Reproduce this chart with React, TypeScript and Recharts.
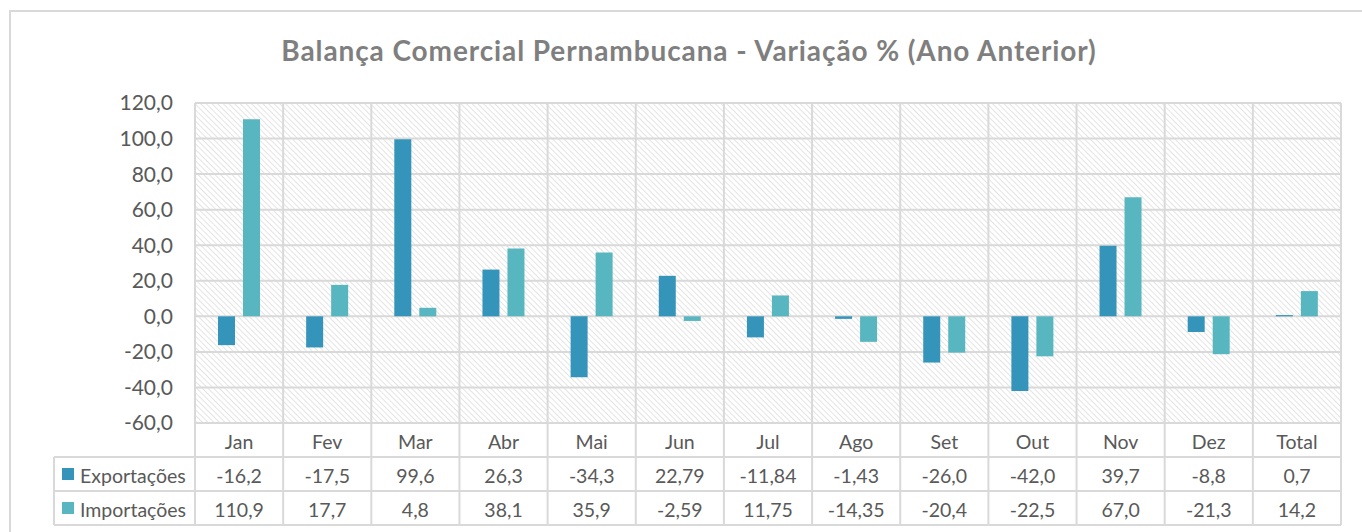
import React from 'react';
import { BarChart, Bar, XAxis, YAxis, CartesianGrid } from 'recharts';

const categories = ['Jan', 'Fev', 'Mar', 'Abr', 'Mai', 'Jun', 'Jul', 'Ago', 'Set', 'Out', 'Nov', 'Dez', 'Total'];
const exportacoes = [-16.2, -17.5, 99.6, 26.3, -34.3, 22.79, -11.84, -1.43, -26.0, -42.0, 39.7, -8.8, 0.7];
const importacoes = [110.9, 17.7, 4.8, 38.1, 35.9, -2.59, 11.75, -14.35, -20.4, -22.5, 67.0, -21.3, 14.2];
const yTicks = [-60, -40, -20, 0, 20, 40, 60, 80, 100, 120];

const seriesNames = ['Exportações', 'Importações'];
const COLORS = ['#3494BA', '#58B6C0'];

const data = categories.map((name, i) => ({ name, exp: exportacoes[i], imp: importacoes[i] }));

// layout
const W = 1362;
const H = 532;
const PLOT_L = 195;
const PLOT_R = 1341;
const PLOT_T = 103;
const PLOT_B = 423;
const ROW_H = 34;
const TABLE_L = 54;
const GRID = '#d9d9d9';
const TXT = '#595959';
const FONT = 'Lato, "Open Sans", sans-serif';

const fmt = (v: number) => (Number.isInteger(v) ? v.toFixed(1) : String(v)).replace('.', ',');

const TableTick = (props: any) => {
  const { x, payload } = props;
  const i = payload.index;
  const bw = (PLOT_R - PLOT_L) / categories.length;
  const left = x - bw / 2;
  const last = i === categories.length - 1;
  const rows = [exportacoes, importacoes];
  return (
    <g>
      <text x={x} y={PLOT_B + ROW_H / 2 + 1} textAnchor="middle" dominantBaseline="central" fill={TXT} fontSize={19.5} fontFamily={FONT}>
        {categories[i]}
      </text>
      {rows.map((r, k) => (
        <text key={k} x={x} y={PLOT_B + ROW_H * (k + 1) + ROW_H / 2 + 1} textAnchor="middle" dominantBaseline="central" fill={TXT} fontSize={19.5} fontFamily={FONT}>
          {fmt(r[i])}
        </text>
      ))}
      <line x1={left} y1={PLOT_B} x2={left} y2={PLOT_B + ROW_H * 3} stroke={GRID} strokeWidth={2} />
      {last && <line x1={left + bw} y1={PLOT_B} x2={left + bw} y2={PLOT_B + ROW_H * 3} stroke={GRID} strokeWidth={2} />}
      {[1, 2, 3].map((k) => (
        <line key={k} x1={left} y1={PLOT_B + ROW_H * k} x2={left + bw} y2={PLOT_B + ROW_H * k} stroke={GRID} strokeWidth={2} />
      ))}
      {i === 0 && (
        <g>
          <line x1={TABLE_L} y1={PLOT_B + ROW_H} x2={TABLE_L} y2={PLOT_B + ROW_H * 3} stroke={GRID} strokeWidth={2} />
          {[1, 2, 3].map((k) => (
            <line key={k} x1={TABLE_L} y1={PLOT_B + ROW_H * k} x2={left} y2={PLOT_B + ROW_H * k} stroke={GRID} strokeWidth={2} />
          ))}
          {seriesNames.map((s, k) => (
            <g key={s}>
              <rect x={62} y={PLOT_B + ROW_H * (k + 1) + 11} width={12} height={12} fill={COLORS[k]} />
              <text x={80} y={PLOT_B + ROW_H * (k + 1) + ROW_H / 2 + 1} dominantBaseline="central" fill={TXT} fontSize={19.5} fontFamily={FONT}>
                {s}
              </text>
            </g>
          ))}
        </g>
      )}
    </g>
  );
};

export default function App() {
  return (
    <div style={{ position: 'absolute', left: 0, top: 0, width: W, height: H, background: '#fff', overflow: 'hidden' }}>
      <div style={{ position: 'absolute', left: 9, top: 10, width: W, height: H, border: `2px solid ${GRID}`, boxSizing: 'border-box' }} />
      <div
        style={{
          position: 'absolute', left: 0, top: 33, width: 1378, textAlign: 'center',
          fontFamily: FONT, fontWeight: 700, fontSize: 28, letterSpacing: 0.9, color: '#7f7f7f',
        }}
      >
        Balança Comercial Pernambucana - Variação % (Ano Anterior)
      </div>
      <div style={{ position: 'absolute', left: 0, top: 0 }}>
        <BarChart
          width={W}
          height={H}
          data={data}
          margin={{ top: PLOT_T, right: W - PLOT_R, bottom: H - PLOT_B - 60, left: PLOT_L - 70 }}
          barSize={17}
          barGap={8}
        >
          <defs>
            <pattern id="hatch" width="4" height="4" patternUnits="userSpaceOnUse" patternTransform="rotate(-45)">
              <rect width="4" height="4" fill="#ffffff" />
              <line x1="0" y1="0" x2="0" y2="4" stroke="#d9d9d9" strokeWidth="1.4" />
            </pattern>
          </defs>
          <CartesianGrid
            fill="url(#hatch)"
            fillOpacity={1}
            stroke={GRID}
            strokeWidth={2}
            verticalCoordinatesGenerator={({ offset }: any) =>
              categories.map((_, i) => offset.left + (i * offset.width) / categories.length).concat(offset.left + offset.width)
            }
          />
          <XAxis
            dataKey="name"
            axisLine={false}
            tickLine={false}
            interval={0}
            height={60}
            tick={<TableTick />}
          />
          <YAxis
            domain={[-60, 120]}
            ticks={yTicks}
            width={70}
            axisLine={false}
            tickLine={false}
            tickSize={0}
            tickMargin={22}
            tickFormatter={fmt}
            tick={{ fill: TXT, fontSize: 21, fontFamily: FONT }}
          />
          <Bar dataKey="exp" name={seriesNames[0]} fill={COLORS[0]} isAnimationActive={false} />
          <Bar dataKey="imp" name={seriesNames[1]} fill={COLORS[1]} isAnimationActive={false} />
        </BarChart>
      </div>
    </div>
  );
}
